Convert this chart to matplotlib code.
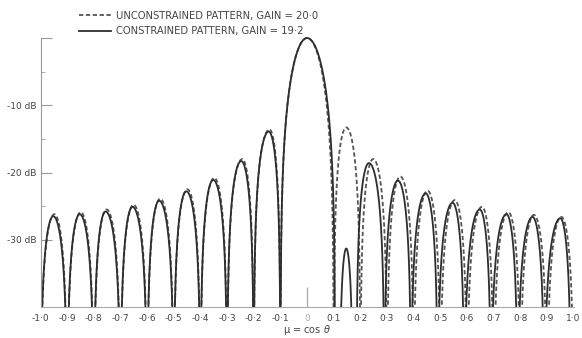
import numpy as np
import matplotlib.pyplot as plt

# x tick labels (mu = cos theta) and y tick labels
mu_ticks = np.round(np.arange(-1.0, 1.01, 0.1), 1)
mu_labels = ['-1·0', '-0·9', '-0·8', '-0·7', '-0·6', '-0·5', '-0·4', '-0·3', '-0·2', '-0·1',
             '0', '0·1', '0·2', '0·3', '0·4', '0·5', '0·6', '0·7', '0·8', '0·9', '1·0']
db_ticks = [0, -10, -20, -30]
db_labels = ['', '-10 dB', '-20 dB', '-30 dB']

names = ['UNCONSTRAINED PATTERN, GAIN = 20·0', 'CONSTRAINED PATTERN, GAIN = 19·2']

# unconstrained pattern: each lobe = (left null, peak position, right null, peak level dB)
unc_left = [-1.0, -0.9, -0.8, -0.7, -0.6, -0.5, -0.4, -0.3, -0.2, -0.1,
            0.1, 0.2, 0.3, 0.4, 0.5, 0.6, 0.7, 0.8, 0.9]
unc_peak_u = [-0.948, -0.849, -0.752, -0.651, -0.551, -0.449, -0.348, -0.243, -0.141, 0.0,
              0.147, 0.248, 0.350, 0.452, 0.554, 0.656, 0.755, 0.851, 0.954]
unc_right = [-0.9, -0.8, -0.7, -0.6, -0.5, -0.4, -0.3, -0.2, -0.1, 0.1,
             0.2, 0.3, 0.4, 0.5, 0.6, 0.7, 0.8, 0.9, 1.0]
unc_peak_db = [-26.2, -25.9, -25.5, -24.8, -23.9, -22.5, -20.8, -18.0, -13.6, 0.0,
               -13.3, -18.0, -20.6, -22.7, -24.1, -25.1, -25.9, -26.3, -26.6]

# constrained pattern
con_left = [-1.0, -0.9, -0.8, -0.7, -0.6, -0.5, -0.4, -0.3, -0.2, -0.1,
            0.122, 0.185, 0.29, 0.39, 0.49, 0.59, 0.69, 0.79, 0.89]
con_peak_u = [-0.952, -0.853, -0.756, -0.655, -0.555, -0.453, -0.352, -0.247, -0.144, 0.0,
              0.147, 0.232, 0.341, 0.445, 0.546, 0.648, 0.748, 0.846, 0.950]
con_right = [-0.9, -0.8, -0.7, -0.6, -0.5, -0.4, -0.3, -0.2, -0.1, 0.105,
             0.172, 0.29, 0.39, 0.49, 0.59, 0.69, 0.79, 0.89, 0.99]
con_peak_db = [-26.5, -26.2, -25.8, -25.1, -24.2, -22.8, -21.1, -18.3, -13.9, 0.0,
               -31.3, -18.6, -21.2, -23.1, -24.5, -25.5, -26.2, -26.6, -26.8]


def lobe(a, c, b, pk):
    # arch between two nulls with its top at (c, pk)
    u = np.linspace(a, b, 200)[1:-1]
    t = np.where(u < c, 0.5 * (u - a) / (c - a), 0.5 + 0.5 * (u - c) / (b - c))
    if pk == 0.0:
        amp = np.abs(np.sinc(2 * t - 1))
    else:
        amp = np.sin(np.pi * t)
    db = pk + 20 * np.log10(np.maximum(amp, 1e-4))
    return np.concatenate([[a], u, [b]]), np.concatenate([[-45], np.maximum(db, -45), [-45]])


fig = plt.figure(figsize=(5.82, 3.38), dpi=100)
ax = fig.add_axes([0.0696, 0.0917, 0.916, 0.8018])

for i in range(len(unc_left)):
    u, d = lobe(unc_left[i], unc_peak_u[i], unc_right[i], unc_peak_db[i])
    ax.plot(u, d, color='#555555', lw=1.3, ls=(0, (2.4, 1.4)),
            label=names[0] if i == 0 else None)
for i in range(len(con_left)):
    u, d = lobe(con_left[i], con_peak_u[i], con_right[i], con_peak_db[i])
    ax.plot(u, d, color='#2e2e2e', lw=1.3, label=names[1] if i == 0 else None)

ax.vlines(0, -40, -37, color='#aaaaaa', lw=0.9)

ax.set_xlim(-1.0, 1.0)
ax.set_ylim(-40, 0.3)
ax.spines['top'].set_visible(False)
ax.spines['right'].set_visible(False)
ax.spines['left'].set_color('#999999')
ax.spines['bottom'].set_color('#aaaaaa')
ax.spines['left'].set_bounds(-40, 0)

ax.set_xticks(mu_ticks)
ax.set_xticklabels(mu_labels, fontsize=6.5, color='#444444')
ax.get_xticklabels()[10].set_color('#aaaaaa')
ax.tick_params(axis='x', length=0, pad=5)

ax.set_yticks(db_ticks)
ax.set_yticklabels(db_labels, fontsize=6.5, color='#444444')
ax.set_yticks([-5, -15, -25], minor=True)
ax.tick_params(axis='y', which='major', direction='in', length=8, color='#999999', pad=3)
ax.tick_params(axis='y', which='minor', direction='in', length=3, color='#999999')

ax.set_xlabel(r'μ = cos $\theta$', fontsize=7, color='#444444', labelpad=0)

fig.legend(loc='upper left', bbox_to_anchor=(0.12, 0.995), frameon=False, fontsize=7.2,
           handlelength=3.2, handletextpad=0.5, labelspacing=0.55, labelcolor='#444444')

plt.savefig('out.png', dpi=100)
